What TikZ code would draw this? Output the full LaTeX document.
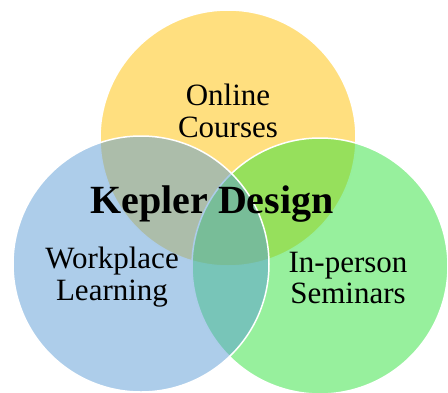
\documentclass[tikz,border=0pt]{standalone}
\usepackage{fontspec}
\setmainfont{Liberation Serif}
\definecolor{cyel}{HTML}{FFC000}
\definecolor{cblu}{HTML}{5B9BD5}
\definecolor{cgrn}{HTML}{2FE13B}
\tikzset{
  venn/.style={circle, draw=white, line width=1.5pt, fill opacity=0.5, minimum size=256pt, inner sep=0pt},
  lbl/.style={align=center, font=\fontsize{31}{31.5}\selectfont, text=black},
  ttl/.style={font=\fontsize{40}{44}\selectfont\bfseries, text=black}
}
\begin{document}
\begin{tikzpicture}[x=1pt,y=-1pt]
\useasboundingbox (0,0) rectangle (448,392);
\node[venn, fill=cyel] (top) at (228,138) {};
\node[venn, fill=cgrn] (right) at (320,266) {};
\node[venn, fill=cblu] (left) at (141,264) {};
\node[lbl] (online) at (228,111) {Online\\Courses};
\node[lbl] (work) at (112,277) {Workplace\\Learning};
\node[lbl] (seminar) at (348,278) {In-person\\Seminars};
\node[ttl, anchor=base] (title) at (212,213) {Kepler Design};
\end{tikzpicture}
\end{document}
